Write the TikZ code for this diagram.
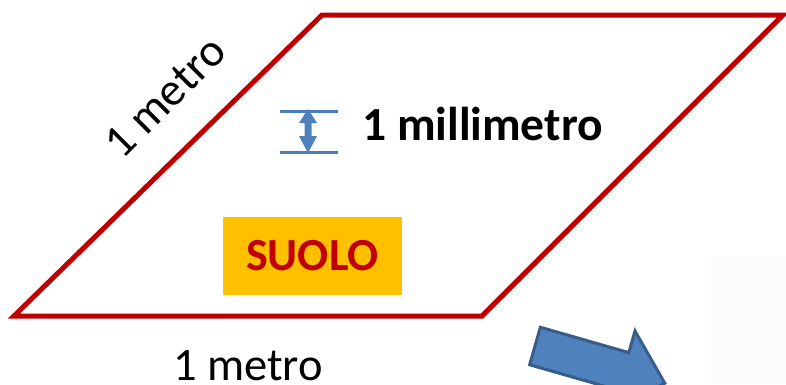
\documentclass[tikz,border=0pt]{standalone}
\usepackage{fontspec}
\setmainfont{Carlito}
\definecolor{edgered}{HTML}{C00000}
\definecolor{suolofill}{HTML}{FFC000}
\definecolor{blockblue}{HTML}{4F81BD}
\definecolor{blockedge}{HTML}{385D8A}
\definecolor{dimblue}{HTML}{4A7EBB}
\definecolor{panel}{HTML}{FCFCFC}
\tikzset{
  sheet/.style={draw=edgered, line width=5pt, line join=miter},
  label/.style={inner sep=0pt, font=\fontsize{46.5}{55}\selectfont},
  boldlabel/.style={inner sep=0pt, font=\fontsize{47.5}{56}\selectfont\bfseries},
  dimline/.style={draw=dimblue, line width=3pt},
  blockarrow/.style={fill=blockblue, draw=blockedge, line width=3pt, line join=miter},
}
\begin{document}
\begin{tikzpicture}[x=1pt,y=-1pt]
\useasboundingbox (0,0) rectangle (786,384);
\begin{scope}
\clip (0,0) rectangle (786,384);
% faint panel at the lower right
\fill[panel] (711,258) rectangle (786,384);

% the square metre of ground, seen in perspective
\coordinate (bl) at (14,316);
\coordinate (br) at (482,316);
\coordinate (tr) at (783,15);
\coordinate (tl) at (322,15);
\draw[sheet] (bl) -- (br) -- (tr) -- (tl) -- cycle;

% side labels
\node[label, rotate=45] (side) at (165,97) {1 metro};
\node[label, anchor=base] (bottom) at (248,380) {1 metro};

% thickness marker
\coordinate (m1) at (280,111);
\coordinate (m2) at (338,111);
\coordinate (m3) at (280,152);
\coordinate (m4) at (338,152);
\draw[dimline] (m1) -- (m2);
\draw[dimline] (m3) -- (m4);
\fill[blockblue] (308,109) -- (317,123) -- (311.5,123) -- (311.5,136) -- (317,136)
  -- (308,153) -- (299,136) -- (304.5,136) -- (304.5,123) -- (299,123) -- cycle;
\node[boldlabel, anchor=base west] (mm) at (362,140) {1 millimetro};

% soil tag
\node[fill=suolofill, minimum width=179pt, minimum height=78pt, inner sep=0pt,
      font=\fontsize{46}{55}\selectfont\bfseries, text=edgered] (suolo) at (312.5,256) {SUOLO};

% block arrow pointing down to the right
\begin{scope}[shift={(535,346)}, rotate=-16]
\draw[blockarrow] (0,-19.5) -- (92,-19.5) -- (92,-42) -- (135,0) -- (92,42) -- (92,19.5) -- (0,19.5) -- cycle;
\end{scope}
\end{scope}
\end{tikzpicture}
\end{document}
